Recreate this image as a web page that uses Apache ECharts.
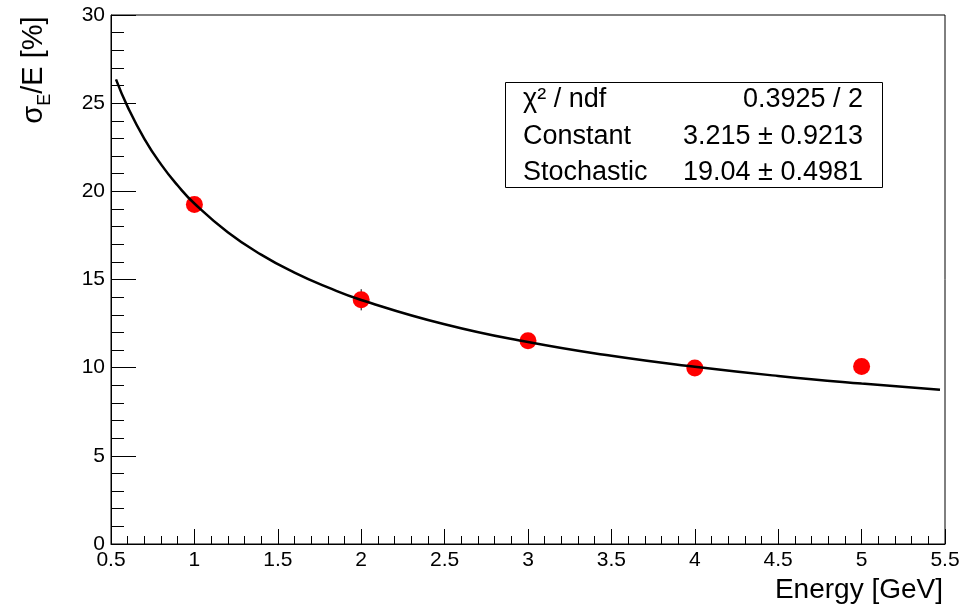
<!DOCTYPE html>
<html>
<head>
<meta charset="utf-8">
<script src="https://cdn.jsdelivr.net/npm/echarts@6/dist/echarts.min.js"></script>
<style>
  html, body { margin: 0; padding: 0; background: #fff; }
  #chart { width: 974px; height: 608px; }
</style>
</head>
<body>
<div id="chart"></div>
<script>
// measured points
var energy = [1, 2, 3, 4, 5];
var resolution = [19.25, 13.85, 11.52, 9.98, 10.06];
var resErr = [0.3, 0.6, 0.3, 0.25, 0.25];

// fit curve
var fitEnergy = [0.53, 0.6, 0.7, 0.8, 0.9, 1.0, 1.2, 1.4, 1.6, 1.8, 2.0, 2.5, 3.0, 3.5, 4.0, 4.5, 5.0, 5.47];
var fitValue = [26.35, 24.79, 22.98, 21.53, 20.33, 19.31, 17.68, 16.41, 15.39, 14.55, 13.84, 12.46, 11.45, 10.67, 10.05, 9.53, 9.10, 8.75];

// stat box
var statLabels = ['χ² / ndf', 'Constant', 'Stochastic'];
var statValues = ['0.3925 / 2', '3.215 ± 0.9213', '19.04 ± 0.4981'];

var FONT = '"Liberation Sans", Arial, sans-serif';

var points = energy.map(function (e, i) { return [e, resolution[i]]; });
var bars = energy.map(function (e, i) { return [e, resolution[i], resErr[i]]; });
var curve = fitEnergy.map(function (e, i) { return [e, fitValue[i]]; });

var statGraphics = [{
  type: 'rect',
  shape: { x: 505.5, y: 82.5, width: 377, height: 105 },
  style: { fill: '#fff', stroke: '#000', lineWidth: 1 },
  z: 10
}];
statLabels.forEach(function (t, i) {
  var cy = 100 + i * 36.5;
  statGraphics.push({
    type: 'text', x: 523, y: cy, z: 11,
    style: { text: t, fill: '#000', font: '27px ' + FONT, align: 'left', verticalAlign: 'middle' }
  });
  statGraphics.push({
    type: 'text', x: 863, y: cy, z: 11,
    style: { text: statValues[i], fill: '#000', font: '27px ' + FONT, align: 'right', verticalAlign: 'middle' }
  });
});

var myChart = echarts.init(document.getElementById('chart'));
myChart.setOption({
  animation: false,
  backgroundColor: '#fff',
  grid: {
    left: 111, right: 29, top: 15, bottom: 64,
    show: true, borderColor: '#000', borderWidth: 1, backgroundColor: 'transparent'
  },
  xAxis: {
    type: 'value', min: 0.5, max: 5.5, interval: 0.5,
    axisLine: { lineStyle: { color: '#000', width: 1 } },
    axisTick: { inside: true, length: 15, lineStyle: { color: '#000' } },
    minorTick: { show: true, splitNumber: 5, length: 8, lineStyle: { color: '#000' } },
    splitLine: { show: false },
    axisLabel: { color: '#000', fontSize: 21, fontFamily: FONT, margin: 6 }
  },
  yAxis: {
    type: 'value', min: 0, max: 30, interval: 5,
    axisLine: { show: true, lineStyle: { color: '#000', width: 1 } },
    axisTick: { show: true, inside: true, length: 25, lineStyle: { color: '#000' } },
    minorTick: { show: true, splitNumber: 5, length: 13, lineStyle: { color: '#000' } },
    splitLine: { show: false },
    axisLabel: { color: '#000', fontSize: 21, fontFamily: FONT, margin: 6 }
  },
  graphic: [
    {
      type: 'text', x: 943, y: 590,
      style: { text: 'Energy [GeV]', fill: '#000', font: '28px ' + FONT, align: 'right', verticalAlign: 'middle' }
    },
    {
      type: 'text', x: 34, y: 70, rotation: Math.PI / 2,
      style: {
        text: '{m|σ}{s|E}{m|/E [%]}',
        align: 'center', verticalAlign: 'middle', fill: '#000',
        rich: {
          m: { fontSize: 29, fontFamily: FONT, lineHeight: 40, fill: '#000' },
          s: { fontSize: 18, fontFamily: FONT, lineHeight: 22, verticalAlign: 'bottom', fill: '#000' }
        }
      }
    }
  ].concat(statGraphics),
  series: [
    {
      type: 'custom',
      data: bars,
      z: 2,
      renderItem: function (params, api) {
        var x = api.value(0), y = api.value(1), e = api.value(2);
        var p1 = api.coord([x, y - e]);
        var p2 = api.coord([x, y + e]);
        return {
          type: 'line',
          shape: { x1: p1[0], y1: p1[1], x2: p2[0], y2: p2[1] },
          style: { stroke: '#000', lineWidth: 1 }
        };
      }
    },
    {
      type: 'scatter',
      data: points,
      symbol: 'circle',
      symbolSize: 17,
      itemStyle: { color: '#ff0000', opacity: 1 },
      z: 3
    },
    {
      type: 'line',
      data: curve,
      smooth: true,
      showSymbol: false,
      lineStyle: { color: '#000', width: 2.5 },
      z: 4
    }
  ]
});
</script>
</body>
</html>
